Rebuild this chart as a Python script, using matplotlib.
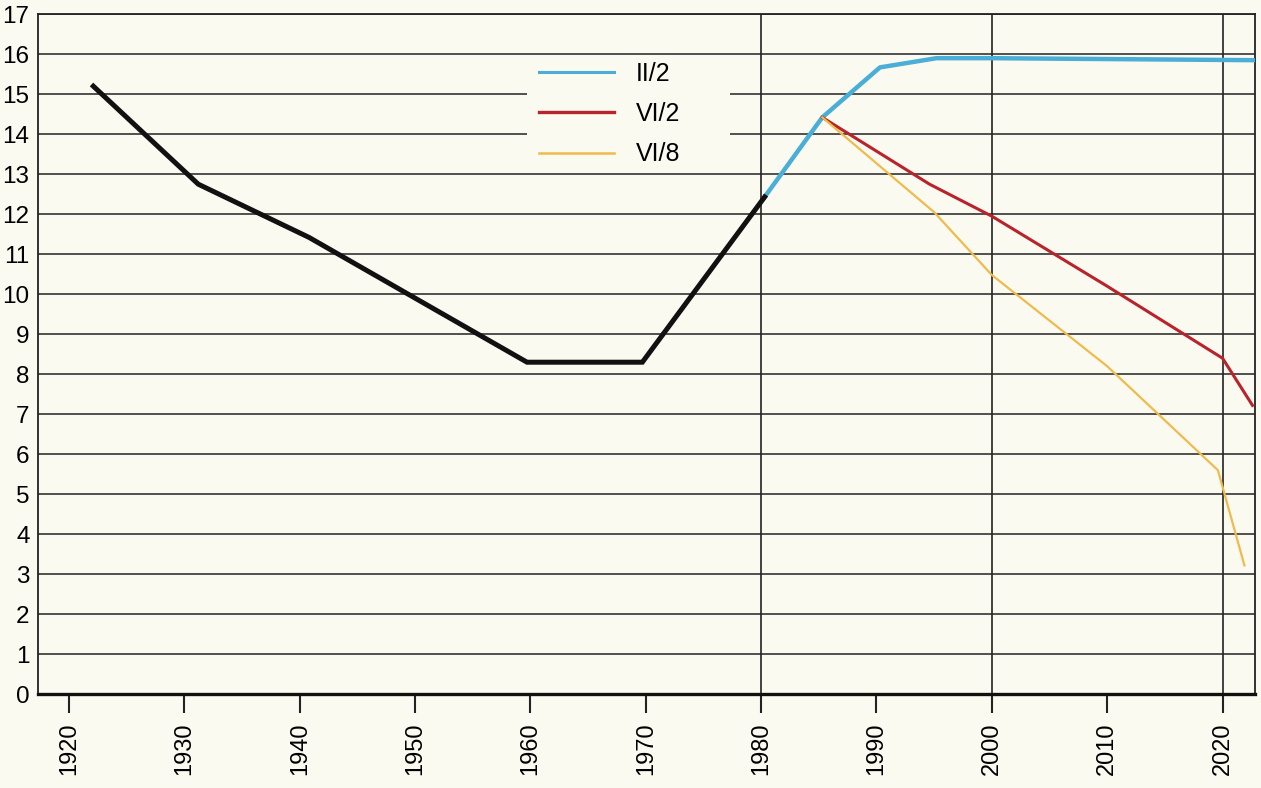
import matplotlib.pyplot as plt
from matplotlib.lines import Line2D
from matplotlib.patches import Rectangle

# historic series (black)
hist_years = [1922.1, 1931.2, 1940.8, 1959.7, 1969.7, 1980.3]
hist_vals = [15.2, 12.75, 11.42, 8.3, 8.3, 12.43]

# scenarios
ii2_years = [1980.3, 1985.3, 1990.3, 1995.2, 2000.0, 2022.8]
ii2_vals = [12.43, 14.42, 15.67, 15.9, 15.9, 15.85]

vi2_years = [1985.3, 1994.6, 2000.0, 2010.0, 2020.0, 2022.6]
vi2_vals = [14.42, 12.75, 11.95, 10.2, 8.4, 7.22]

vi8_years = [1985.3, 1995.0, 2000.0, 2010.0, 2019.6, 2021.9]
vi8_vals = [14.42, 12.05, 10.48, 8.2, 5.6, 3.22]

x_ticks = list(range(1920, 2021, 10))
y_ticks = list(range(0, 18))
v_lines = [1980, 2000, 2020]
labels = ['II/2', 'VI/2', 'VI/8']

bg = '#fbfaf1'
ink = '#222222'
colors = {'II/2': '#4aaed6', 'VI/2': '#b8232c', 'VI/8': '#efbb4c'}

plt.rcParams['font.family'] = ['Liberation Sans', 'DejaVu Sans']

fig = plt.figure(figsize=(12.61, 7.88), dpi=100, facecolor=bg)
ax = fig.add_axes([0.0301, 0.119, 0.965, 0.863], facecolor=bg)

ax.set_xlim(1917.3, 2022.8)
ax.set_ylim(0, 17)

for y in y_ticks[1:]:
    ax.axhline(y, color=ink, lw=1.1, zorder=1)
for x in v_lines:
    ax.axvline(x, color=ink, lw=1.2, zorder=1)

# legend background covering the grid
ax.add_patch(Rectangle((1959.7, 13.05), 17.6, 2.88, facecolor=bg,
                       edgecolor='none', zorder=2))

ax.plot(hist_years, hist_vals, color='#111111', lw=3.6, zorder=4,
        solid_joinstyle='miter')
ax.plot(ii2_years, ii2_vals, color=colors['II/2'], lw=3.2, zorder=3)
ax.plot(vi2_years, vi2_vals, color=colors['VI/2'], lw=2.2, zorder=3)
ax.plot(vi8_years, vi8_vals, color=colors['VI/8'], lw=1.6, zorder=3)

handles = [Line2D([], [], color=colors['II/2'], lw=2.2),
           Line2D([], [], color=colors['VI/2'], lw=2.4),
           Line2D([], [], color=colors['VI/8'], lw=1.8)]
leg = ax.legend(handles, labels, loc='upper left', bbox_to_anchor=(0.393, 0.963),
                frameon=False, fontsize=18, handlelength=3.0, handletextpad=0.9,
                labelspacing=0.65)
leg.set_zorder(5)

ax.set_xticks(x_ticks)
ax.set_xticklabels([str(x) for x in x_ticks], rotation=90, fontsize=17)
ax.set_yticks(y_ticks)
ax.set_yticklabels([str(y) for y in y_ticks], fontsize=17.5)
ax.tick_params(axis='x', direction='out', length=14, width=1.5, color=ink, pad=6)
ax.tick_params(axis='y', length=0, pad=6)

for side in ['left', 'right', 'top']:
    ax.spines[side].set_color(ink)
    ax.spines[side].set_linewidth(1.3)
ax.spines['bottom'].set_color('#111111')
ax.spines['bottom'].set_linewidth(2.4)

fig.savefig('out.png', dpi=100, facecolor=bg)
